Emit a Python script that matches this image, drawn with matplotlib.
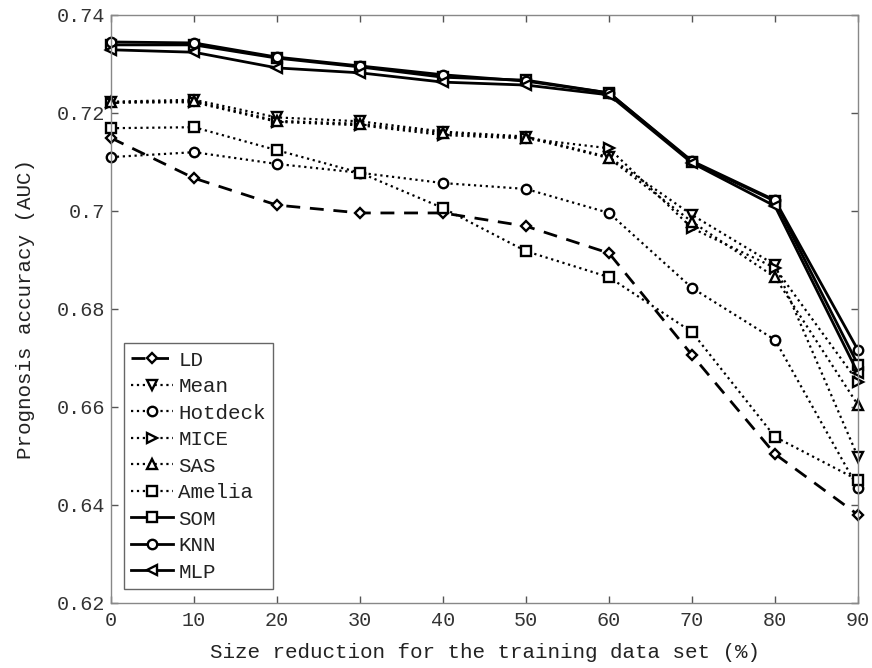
import matplotlib
matplotlib.use("Agg")
import matplotlib.pyplot as plt

plt.rcParams['font.family'] = ['Liberation Mono', 'DejaVu Sans Mono']

x = [0, 10, 20, 30, 40, 50, 60, 70, 80, 90]

LD      = [0.7149, 0.7067, 0.7012, 0.6996, 0.6996, 0.6969, 0.6914, 0.6706, 0.6504, 0.6380]
Mean    = [0.7223, 0.7227, 0.7191, 0.7183, 0.7162, 0.7152, 0.7110, 0.6992, 0.6890, 0.6498]
Hotdeck = [0.7110, 0.7120, 0.7096, 0.7078, 0.7057, 0.7045, 0.6996, 0.6843, 0.6737, 0.6435]
MICE    = [0.7221, 0.7222, 0.7182, 0.7175, 0.7155, 0.7148, 0.7128, 0.6965, 0.6884, 0.6651]
SAS     = [0.7222, 0.7224, 0.7184, 0.7178, 0.7159, 0.7150, 0.7108, 0.6978, 0.6865, 0.6604]
Amelia  = [0.7169, 0.7171, 0.7124, 0.7078, 0.7006, 0.6918, 0.6865, 0.6753, 0.6539, 0.6451]
SOM     = [0.7339, 0.7339, 0.7312, 0.7294, 0.7273, 0.7267, 0.7241, 0.7100, 0.7020, 0.6686]
KNN     = [0.7345, 0.7343, 0.7314, 0.7296, 0.7278, 0.7265, 0.7241, 0.7102, 0.7022, 0.6716]
MLP     = [0.7329, 0.7324, 0.7292, 0.7282, 0.7263, 0.7257, 0.7237, 0.7098, 0.7010, 0.6669]

series = [
    ("LD", LD, 'D', (0, (5, 3.5)), 2.0, 5.6),
    ("Mean", Mean, 'v', ':', 1.6, 6.8),
    ("Hotdeck", Hotdeck, 'o', ':', 1.6, 6.8),
    ("MICE", MICE, '>', ':', 1.6, 6.8),
    ("SAS", SAS, '^', ':', 1.6, 6.8),
    ("Amelia", Amelia, 's', ':', 1.6, 6.8),
    ("SOM", SOM, 's', '-', 2.0, 6.8),
    ("KNN", KNN, 'o', '-', 2.0, 6.8),
    ("MLP", MLP, '<', '-', 2.0, 6.8),
]

yticks = [0.62, 0.64, 0.66, 0.68, 0.70, 0.72, 0.74]
yticklabels = ['0.62', '0.64', '0.66', '0.68', '0.7', '0.72', '0.74']

fig = plt.figure(figsize=(8.72, 6.68), dpi=100)
ax = fig.add_axes([111/872, 1 - 603/668, (858-111)/872, (603-15)/668])

for name, vals, mk, ls, lw, ms in series:
    ax.plot(x, vals, color='black', linestyle=ls, linewidth=lw, marker=mk,
            markersize=ms, markerfacecolor='white', markeredgecolor='black',
            markeredgewidth=1.7, label=name, clip_on=False)

ax.set_xlim(0, 90)
ax.set_ylim(0.62, 0.74)
ax.set_xticks(x)
ax.set_xticklabels([str(v) for v in x])
ax.set_yticks(yticks)
ax.set_yticklabels(yticklabels)

for s in ax.spines.values():
    s.set_color('#888888')
    s.set_linewidth(1.0)
ax.tick_params(direction='in', length=5, width=1, color='#555555',
               top=True, right=True, labelsize=14.5, labelcolor='#333333')
ax.tick_params(axis='x', pad=6)
ax.tick_params(axis='y', pad=4)

ax.set_xlabel("Size reduction for the training data set (%)", fontsize=15, color='#222222', labelpad=9)
ax.set_ylabel("Prognosis accuracy (AUC)", fontsize=15, color='#222222', labelpad=16)

leg = ax.legend(loc='lower left', bbox_to_anchor=((124-111)/747, (603-589)/588),
                borderaxespad=0, fontsize=15, numpoints=1, handlelength=2.0,
                handletextpad=0.25, labelspacing=0.36, borderpad=0.35,
                fancybox=False, framealpha=1, edgecolor='#666666')
leg.get_frame().set_linewidth(1.0)
for t in leg.get_texts():
    t.set_color('#222222')

fig.savefig('out.png', dpi=100)
